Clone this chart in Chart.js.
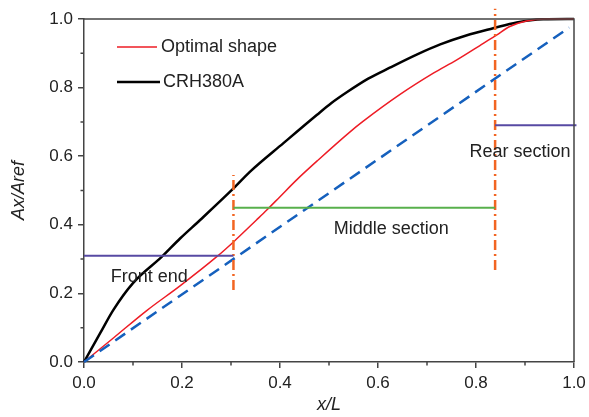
<!DOCTYPE html>
<html>
<head>
<meta charset="utf-8">
<script src="https://cdn.jsdelivr.net/npm/chart.js@4.4.0/dist/chart.umd.min.js"></script>
<style>
    body { margin: 0; background: #fff; }
</style>
</head>
<body>
<canvas id="areaChart" width="589" height="417"></canvas>
<script>
// values
const crhX = [0, 0.033, 0.06, 0.10, 0.159, 0.196, 0.237, 0.305, 0.339, 0.407, 0.475, 0.505, 0.537, 0.58, 0.624, 0.68, 0.727, 0.78, 0.835, 0.883, 0.937, 1.0];
const crhY = [0, 0.084, 0.152, 0.23, 0.307, 0.36, 0.414, 0.506, 0.555, 0.638, 0.72, 0.755, 0.787, 0.826, 0.858, 0.897, 0.926, 0.952, 0.973, 0.99, 0.999, 1.0];

const optX = [0, 0.06, 0.128, 0.196, 0.271, 0.305, 0.352, 0.373, 0.40, 0.434, 0.478, 0.543, 0.57, 0.645, 0.713, 0.76, 0.815, 0.842, 0.869, 0.903, 0.94, 1.0];
const optY = [0, 0.07, 0.15, 0.222, 0.307, 0.35, 0.414, 0.443, 0.482, 0.531, 0.589, 0.671, 0.702, 0.78, 0.842, 0.88, 0.929, 0.953, 0.978, 0.994, 1.0, 1.0];

const refX = [0, 0.99];
const refY = [0, 0.975];

const frontX = [0, 0.305];
const frontY = [0.31, 0.31];
const middleX = [0.305, 0.839];
const middleY = [0.45, 0.45];
const rearX = [0.839, 1.005];
const rearY = [0.69, 0.69];
const split1X = [0.305, 0.305];
const split1Y = [0.21, 0.545];
const split2X = [0.839, 0.839];
const split2Y = [0.268, 1.03];

const tickValues = [0, 0.2, 0.4, 0.6, 0.8, 1.0];
const minorValues = [0.1, 0.3, 0.5, 0.7, 0.9];

const seriesNames = ['Optimal shape', 'CRH380A'];
const sectionNames = ['Front end', 'Middle section', 'Rear section'];

const axisColor = '#444';
const font = '"Liberation Sans", Arial, sans-serif';

function toPoints(xs, ys) {
    return xs.map(function(x, i) { return { x: x, y: ys[i] }; });
}

function segment(xs, ys, color, width, dash, smooth) {
    const ds = {
        data: toPoints(xs, ys),
        borderColor: color,
        borderWidth: width,
        borderDash: dash || [],
        pointRadius: 0,
        fill: false,
        tension: 0,
        clip: false
    };
    if (smooth) {
        ds.cubicInterpolationMode = 'monotone';
    }
    return ds;
}

// frame, minor ticks, legend and section labels
const decorPlugin = {
    id: 'decor',
    afterDraw: function(chart) {
        const c = chart.ctx;
        const a = chart.chartArea;
        const xs = chart.scales.x;
        const ys = chart.scales.y;
        c.save();
        c.strokeStyle = axisColor;
        c.lineWidth = 1.5;
        c.beginPath();
        c.moveTo(a.left, a.top);
        c.lineTo(a.right, a.top);
        c.lineTo(a.right, a.bottom);
        c.stroke();

        c.beginPath();
        minorValues.forEach(function(v) {
            const px = xs.getPixelForValue(v);
            c.moveTo(px, a.bottom);
            c.lineTo(px, a.bottom + 3.5);
            const py = ys.getPixelForValue(v);
            c.moveTo(a.left, py);
            c.lineTo(a.left - 3.5, py);
        });
        c.stroke();

        // legend
        c.font = '18px ' + font;
        c.textBaseline = 'middle';
        c.fillStyle = '#222';
        c.strokeStyle = '#ee1c25';
        c.lineWidth = 1.5;
        c.beginPath();
        c.moveTo(117, 47);
        c.lineTo(157, 47);
        c.stroke();
        c.fillText(seriesNames[0], 161, 47);
        c.strokeStyle = '#000';
        c.lineWidth = 2.5;
        c.beginPath();
        c.moveTo(117, 82);
        c.lineTo(160, 82);
        c.stroke();
        c.fillText(seriesNames[1], 163, 82);

        // section labels
        c.textAlign = 'center';
        c.fillText(sectionNames[0], xs.getPixelForValue(0.133), ys.getPixelForValue(0.248));
        c.fillText(sectionNames[1], xs.getPixelForValue(0.627), ys.getPixelForValue(0.388));
        c.fillText(sectionNames[2], xs.getPixelForValue(0.89), ys.getPixelForValue(0.612));
        c.restore();
    }
};

const ctx = document.getElementById('areaChart').getContext('2d');
const areaChart = new Chart(ctx, {
    type: 'line',
    data: {
        datasets: [
            segment(frontX, frontY, '#574aa3', 2),
            segment(middleX, middleY, '#58b04c', 2),
            segment(rearX, rearY, '#574aa3', 2),
            segment(split1X, split1Y, '#f26522', 2.5, [10, 4, 2, 4]),
            segment(split2X, split2Y, '#f26522', 2.5, [10, 4, 2, 4]),
            segment(refX, refY, '#1560bd', 2.5, [12, 7]),
            segment(optX, optY, '#ee1c25', 1.5, null, true),
            segment(crhX, crhY, '#000000', 2.5, null, true)
        ]
    },
    options: {
        responsive: false,
        animation: false,
        layout: { padding: { top: 19, right: 15, bottom: 0, left: 0 } },
        plugins: {
            legend: { display: false },
            tooltip: { enabled: false }
        },
        scales: {
            x: {
                type: 'linear',
                min: 0,
                max: 1,
                afterFit: function(scale) {
                    scale.height = 55;
                    scale.paddingLeft = 0;
                    scale.paddingRight = 0;
                },
                afterBuildTicks: function(scale) {
                    scale.ticks = tickValues.map(function(v) { return { value: v }; });
                },
                border: { color: axisColor, width: 1.5 },
                grid: { drawOnChartArea: false, color: axisColor, lineWidth: 1.5, tickLength: 6 },
                ticks: {
                    color: '#222',
                    padding: 5,
                    maxRotation: 0,
                    font: { family: font, size: 17 },
                    callback: function(v) { return v.toFixed(1); }
                },
                title: {
                    display: true,
                    text: 'x/L',
                    color: '#222',
                    padding: { top: 0, bottom: 1 },
                    font: { family: font, size: 18, style: 'italic' }
                }
            },
            y: {
                min: 0,
                max: 1,
                afterFit: function(scale) { scale.width = 84; },
                afterBuildTicks: function(scale) {
                    scale.ticks = tickValues.map(function(v) { return { value: v }; });
                },
                border: { color: axisColor, width: 1.5 },
                grid: { drawOnChartArea: false, color: axisColor, lineWidth: 1.5, tickLength: 6 },
                ticks: {
                    color: '#222',
                    padding: 5,
                    font: { family: font, size: 17 },
                    callback: function(v) { return v.toFixed(1); }
                },
                title: {
                    display: true,
                    text: 'Ax/Aref',
                    color: '#222',
                    padding: { top: 8, bottom: 0 },
                    font: { family: font, size: 18, style: 'italic' }
                }
            }
        }
    },
    plugins: [decorPlugin]
});
</script>
</body>
</html>
